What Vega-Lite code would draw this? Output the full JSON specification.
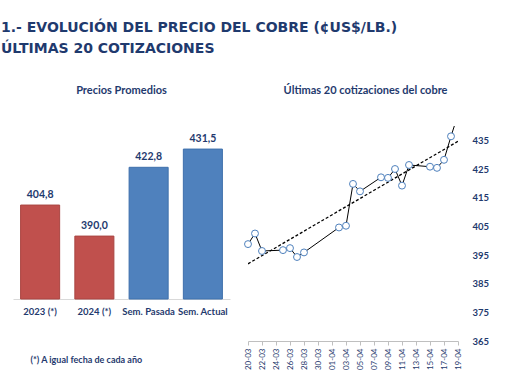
{
  "$schema": "https://vega.github.io/schema/vega-lite/v6.json",
  "padding": {"left": 1, "top": 21, "right": 0, "bottom": 0},
  "background": "white",
  "config": {
    "view": {"stroke": null},
    "font": "Lato",
    "locale": {"number": {"decimal": ",", "thousands": ".", "grouping": [3], "currency": ["$", ""]}},
    "concat": {"spacing": 12}
  },
  "title": {
    "text": "1.- EVOLUCIÓN DEL PRECIO DEL COBRE (¢US$/LB.)",
    "subtitle": "ÚLTIMAS 20 COTIZACIONES",
    "anchor": "start",
    "frame": "group",
    "dx": -12,
    "offset": 29,
    "font": "DejaVu Sans",
    "fontSize": 14,
    "fontWeight": "bold",
    "color": "#1F3A6E",
    "subtitleFont": "DejaVu Sans",
    "subtitleFontSize": 14,
    "subtitleFontWeight": "bold",
    "subtitleColor": "#1F3A6E",
    "subtitlePadding": 7
  },
  "datasets": {
    "promedios": [
      {"periodo": "2023 (*)", "precio": 404.8, "tipo": "anual"},
      {"periodo": "2024 (*)", "precio": 390.0, "tipo": "anual"},
      {"periodo": "Sem. Pasada", "precio": 422.8, "tipo": "semanal"},
      {"periodo": "Sem. Actual", "precio": 431.5, "tipo": "semanal"}
    ],
    "cotizaciones": [
      {"fecha": "2024-03-20", "precio": 398.8},
      {"fecha": "2024-03-21", "precio": 402.5},
      {"fecha": "2024-03-22", "precio": 396.4},
      {"fecha": "2024-03-25", "precio": 396.7},
      {"fecha": "2024-03-26", "precio": 397.4},
      {"fecha": "2024-03-27", "precio": 394.3},
      {"fecha": "2024-03-28", "precio": 395.9},
      {"fecha": "2024-04-02", "precio": 404.6},
      {"fecha": "2024-04-03", "precio": 405.2},
      {"fecha": "2024-04-04", "precio": 419.8},
      {"fecha": "2024-04-05", "precio": 417.2},
      {"fecha": "2024-04-08", "precio": 422.1},
      {"fecha": "2024-04-09", "precio": 421.9},
      {"fecha": "2024-04-10", "precio": 425.0},
      {"fecha": "2024-04-11", "precio": 419.2},
      {"fecha": "2024-04-12", "precio": 426.4},
      {"fecha": "2024-04-15", "precio": 425.8},
      {"fecha": "2024-04-16", "precio": 425.4},
      {"fecha": "2024-04-17", "precio": 428.2},
      {"fecha": "2024-04-18", "precio": 436.4},
      {"fecha": "2024-04-19", "precio": 444.0}
    ]
  },
  "hconcat": [
    {
      "title": {"text": "Precios Promedios", "font": "Lato", "fontSize": 11, "fontWeight": "bold", "color": "#1F3A6E", "offset": 30},
      "width": 217,
      "height": 173,
      "data": {"name": "promedios"},
      "encoding": {
        "x": {
          "field": "periodo", "type": "nominal", "sort": null,
          "scale": {"paddingInner": 0.28, "paddingOuter": 0.14},
          "axis": {
            "labelAngle": 0, "labelFont": "Lato", "labelFontSize": 9.5, "labelFontWeight": "bold", "labelColor": "#1F3A6E",
            "labelPadding": 7, "ticks": false, "domainColor": "#D9D9D9", "grid": false,
            "title": "(*) A igual fecha de cada año", "titleFont": "Lato", "titleFontSize": 9, "titleFontWeight": "bold", "titleColor": "#1F3A6E",
            "titleAnchor": "start", "titleAlign": "left", "titleX": 17, "titleY": 60, "titleBaseline": "middle"
          }
        },
        "y": {
          "field": "precio", "type": "quantitative",
          "scale": {"domain": [360, 442.5], "zero": false, "nice": false},
          "axis": null
        }
      },
      "layer": [
        {
          "mark": {"type": "bar", "strokeWidth": 1},
          "encoding": {
            "y2": {"datum": 360},
            "color": {"field": "tipo", "type": "nominal", "scale": {"domain": ["anual", "semanal"], "range": ["#C0504D", "#4F81BD"]}, "legend": null},
            "stroke": {"field": "tipo", "type": "nominal", "scale": {"domain": ["anual", "semanal"], "range": ["#A94542", "#3F70AC"]}, "legend": null}
          }
        },
        {
          "mark": {"type": "text", "dy": -10, "baseline": "middle", "font": "Lato", "fontSize": 10.5, "fontWeight": "bold", "color": "#1F3A6E"},
          "encoding": {"text": {"field": "precio", "type": "quantitative", "format": ".1f"}}
        }
      ]
    },
    {
      "title": {"text": "Últimas 20 cotizaciones del cobre", "font": "Lato", "fontSize": 11, "fontWeight": "bold", "color": "#1F3A6E", "offset": 30, "frame": "bounds"},
      "width": 210,
      "height": 215,
      "data": {"name": "cotizaciones"},
      "encoding": {
        "x": {
          "field": "fecha", "type": "temporal",
          "scale": {"type": "utc", "domain": [{"year": 2024, "month": 3, "date": 20, "utc": true}, {"year": 2024, "month": 4, "date": 19, "utc": true}]},
          "axis": {
            "format": "%d-%m", "labelAngle": 270, "labelFont": "Lato", "labelFontSize": 8, "labelColor": "#1F3A6E",
            "labelPadding": 3, "tickSize": 4, "tickColor": "#BFBFBF", "domainColor": "#BFBFBF", "grid": false, "title": null,
            "values": [
              {"year": 2024, "month": 3, "date": 20, "utc": true},
              {"year": 2024, "month": 3, "date": 22, "utc": true},
              {"year": 2024, "month": 3, "date": 24, "utc": true},
              {"year": 2024, "month": 3, "date": 26, "utc": true},
              {"year": 2024, "month": 3, "date": 28, "utc": true},
              {"year": 2024, "month": 3, "date": 30, "utc": true},
              {"year": 2024, "month": 4, "date": 1, "utc": true},
              {"year": 2024, "month": 4, "date": 3, "utc": true},
              {"year": 2024, "month": 4, "date": 5, "utc": true},
              {"year": 2024, "month": 4, "date": 7, "utc": true},
              {"year": 2024, "month": 4, "date": 9, "utc": true},
              {"year": 2024, "month": 4, "date": 11, "utc": true},
              {"year": 2024, "month": 4, "date": 13, "utc": true},
              {"year": 2024, "month": 4, "date": 15, "utc": true},
              {"year": 2024, "month": 4, "date": 17, "utc": true},
              {"year": 2024, "month": 4, "date": 19, "utc": true}
            ]
          }
        },
        "y": {
          "field": "precio", "type": "quantitative",
          "scale": {"domain": [365, 440], "zero": false, "nice": false},
          "axis": {
            "orient": "right", "values": [365, 375, 385, 395, 405, 415, 425, 435], "domain": false, "ticks": false, "grid": false,
            "labelFont": "Lato", "labelFontSize": 9.5, "labelFontWeight": "bold", "labelColor": "#1F3A6E", "labelPadding": 14, "title": null
          }
        }
      },
      "layer": [
        {
          "mark": {"type": "line", "color": "#000000", "strokeWidth": 1, "clip": true}
        },
        {
          "transform": [{"regression": "precio", "on": "fecha"}],
          "mark": {"type": "line", "color": "#000000", "strokeWidth": 1.3, "strokeDash": [3, 2], "clip": true}
        },
        {
          "transform": [{"filter": "datum.precio <= 440"}],
          "mark": {"type": "point", "shape": "circle", "filled": true, "fill": "#FFFFFF", "stroke": "#4F81BD", "strokeWidth": 1, "size": 48, "opacity": 1}
        }
      ]
    }
  ]
}
